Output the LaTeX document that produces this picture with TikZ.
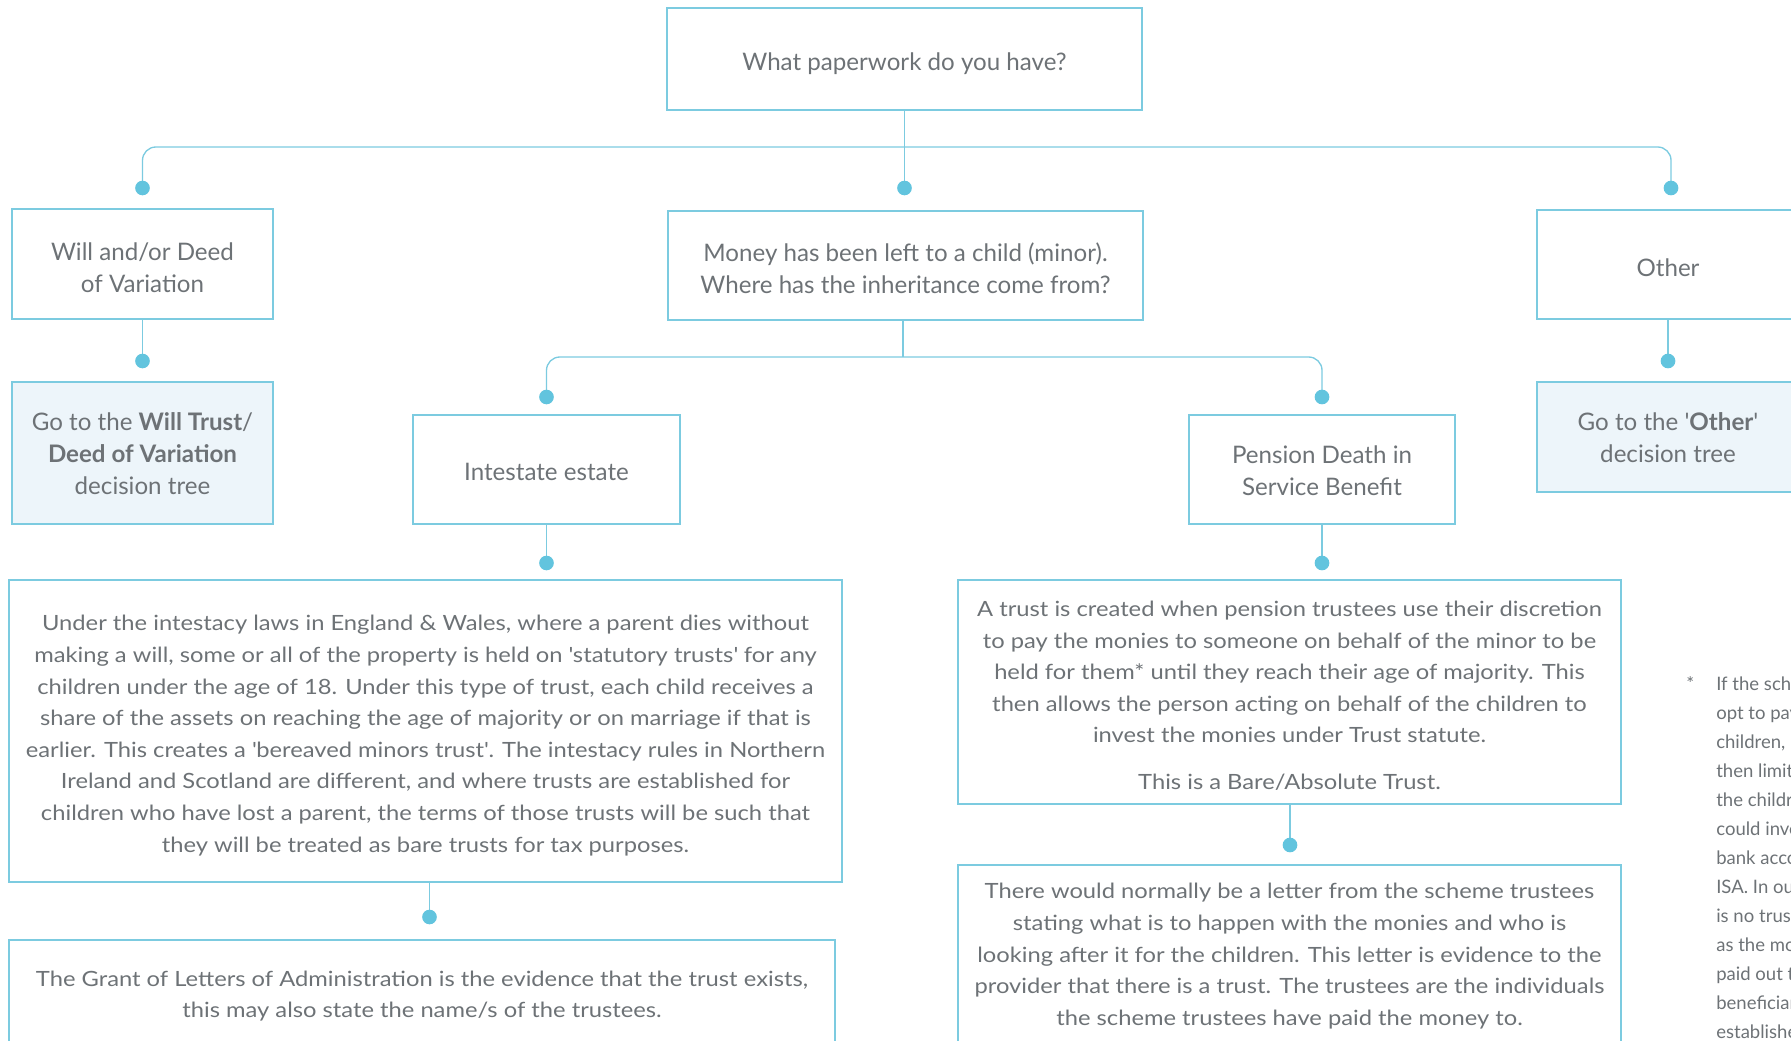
\documentclass[tikz,border=0pt]{standalone}
\usepackage{fontspec}
\setmainfont{Lato}
\newfontfamily\widelato{Lato}[FakeStretch=1.13]
\definecolor{lineblue}{HTML}{7CCBE0}
\definecolor{dotblue}{HTML}{62C4DE}
\definecolor{paleblue}{HTML}{EDF5FA}
\definecolor{txtgray}{HTML}{6D7276}
\begin{document}
\begin{tikzpicture}[x=0.75pt,y=-0.75pt,
  box/.style={draw=lineblue, line width=1pt, rectangle, inner sep=0pt},
  gobox/.style={box, fill=paleblue},
  boxtext/.style={align=center, text=txtgray, inner sep=0pt},
  headtext/.style={boxtext, font=\fontsize{18.1}{24}\selectfont},
  bodytext/.style={boxtext, font=\widelato\fontsize{15.75}{23.7}\selectfont},
  dot/.style={circle, fill=dotblue, inner sep=0pt, minimum size=11pt},
  conn/.style={draw=lineblue, line width=1pt},
  fnote/.style={text=txtgray, inner sep=0pt, font=\fontsize{13.9}{21.75}\selectfont}]
\useasboundingbox (0,0) rectangle (1791,1041);
\clip (0,0) rectangle (1791,1041);

% question and answer boxes
\node[box, minimum width=356.25pt, minimum height=76.5pt] (top) at (904.5,59) {};
\node[box, minimum width=195.75pt, minimum height=82.5pt] (will) at (142.5,264) {};
\node[box, minimum width=356.25pt, minimum height=81.75pt] (money) at (905.5,265.5) {};
\node[box, minimum width=196.5pt, minimum height=81.75pt] (other) at (1668,264.5) {};
\node[gobox, minimum width=195.75pt, minimum height=106.5pt] (willgo) at (142.5,453) {};
\node[gobox, minimum width=196.5pt, minimum height=82.5pt] (othergo) at (1668,437) {};
\node[box, minimum width=200.25pt, minimum height=81.75pt] (intest) at (546.5,469.5) {};
\node[box, minimum width=199.5pt, minimum height=81.75pt] (pension) at (1322,469.5) {};

\node[headtext] (top-t) at ([yshift=-3.4pt]top.center) {What paperwork do you have?};
\node[headtext] (will-t) at ([yshift=-2.6pt]will.center) {Will and/or Deed\\of Variation};
\node[headtext] (money-t) at ([yshift=-1.9pt]money.center)
  {Money has been left to a child (minor).\\Where has the inheritance come from?};
\node[headtext] (other-t) at ([yshift=-2.6pt]other.center) {Other};
\node[headtext] (willgo-t) at ([yshift=-0.8pt]willgo.center)
  {Go to the \textbf{Will Trust}/\\\textbf{Deed of Variation}\\decision tree};
\node[headtext] (othergo-t) at ([yshift=-0.8pt]othergo.center)
  {Go to the \textquotesingle\textbf{Other}\textquotesingle\\decision tree};
\node[headtext] (intest-t) at ([yshift=-1.9pt]intest.center) {Intestate estate};
\node[headtext] (pension-t) at ([yshift=-0.8pt]pension.center) {Pension Death in\\Service Benefit};

% explanation boxes
\node[box, minimum width=624.75pt, minimum height=226.5pt] (rules) at (425.5,731) {};
\node[box, minimum width=497.25pt, minimum height=168pt] (ptrust) at (1289.5,692) {};
\node[box, minimum width=619.5pt, minimum height=82.5pt] (grant) at (422,995) {};
\node[box, minimum width=497.25pt, minimum height=135pt] (letter) at (1289.5,955) {};

\node[bodytext] (rules-t) at ([yshift=-3.4pt]rules.center)
  {Under the intestacy laws in England \& Wales, where a parent dies without\\
   making a will, some or all of the property is held on \textquotesingle statutory trusts\textquotesingle\ for any\\
   children under the age of 18. Under this type of trust, each child receives a\\
   share of the assets on reaching the age of majority or on marriage if that is\\
   earlier. This creates a \textquotesingle bereaved minors trust\textquotesingle. The intestacy rules in Northern\\
   Ireland and Scotland are different, and where trusts are established for\\
   children who have lost a parent, the terms of those trusts will be such that\\
   they will be treated as bare trusts for tax purposes.};
\node[bodytext] (ptrust-t) at ([yshift=-2.6pt]ptrust.center)
  {A trust is created when pension trustees use their discretion\\
   to pay the monies to someone on behalf of the minor to be\\
   held for them*\ until they reach their age of majority. This\\
   then allows the person acting on behalf of the children to\\
   invest the monies under Trust statute.\\[11pt]
   This is a Bare/Absolute Trust.};
\node[bodytext] (grant-t) at ([yshift=-0.8pt]grant.center)
  {The Grant of Letters of Administration is the evidence that the trust exists,\\
   this may also state the name/s of the trustees.};
\node[bodytext] (letter-t) at ([yshift=-0.8pt]letter.center)
  {There would normally be a letter from the scheme trustees\\
   stating what is to happen with the monies and who is\\
   looking after it for the children. This letter is evidence to the\\
   provider that there is a trust. The trustees are the individuals\\
   the scheme trustees have paid the money to.};

% footnote running off the right edge
\node[fnote, anchor=base west] (fnstar) at (1686,690) {*};
\foreach \t [count=\i] in {If the scheme, opt to pay, {children,}, then limited,
    the children, could invest, bank account, ISA. In our, is no trust,
    as the money, paid out to, beneficiary, established}
  \node[fnote, anchor=base west] (fn\i) at (1716,{690+29*(\i-1)}) {\t};

% junction points and dots
\coordinate (h1) at (904.5,147);
\coordinate (dA) at (142.5,188);
\coordinate (dB) at (904.5,188);
\coordinate (dC) at (1671,188);
\coordinate (dW) at (142.5,361);
\coordinate (dO) at (1668,361);
\coordinate (h2) at (903,357);
\coordinate (dI) at (546.5,397);
\coordinate (dP) at (1322,397);
\coordinate (dI2) at (546.5,563);
\coordinate (dP2) at (1322,563);
\coordinate (dR) at (429.5,917);
\coordinate (dT) at (1290,845);

% connectors
\draw[conn] (top.south) -- (h1) -- (dB);
\draw[conn, rounded corners=10pt] (dA) |- (h1) -| (dC);
\draw[conn] (will.south) -- (dW);
\draw[conn] (other.south) -- (dO);
\draw[conn] (money.south -| h2) -- (h2);
\draw[conn, rounded corners=10pt] (dI) |- (h2) -| (dP);
\draw[conn] (intest.south) -- (dI2);
\draw[conn] (pension.south) -- (dP2);
\draw[conn] (rules.south -| dR) -- (dR);
\draw[conn] (ptrust.south -| dT) -- (dT);

\foreach \c in {dA,dB,dC,dW,dO,dI,dP,dI2,dP2,dR,dT}
  \node[dot] (\c-dot) at (\c) {};
\end{tikzpicture}
\end{document}
